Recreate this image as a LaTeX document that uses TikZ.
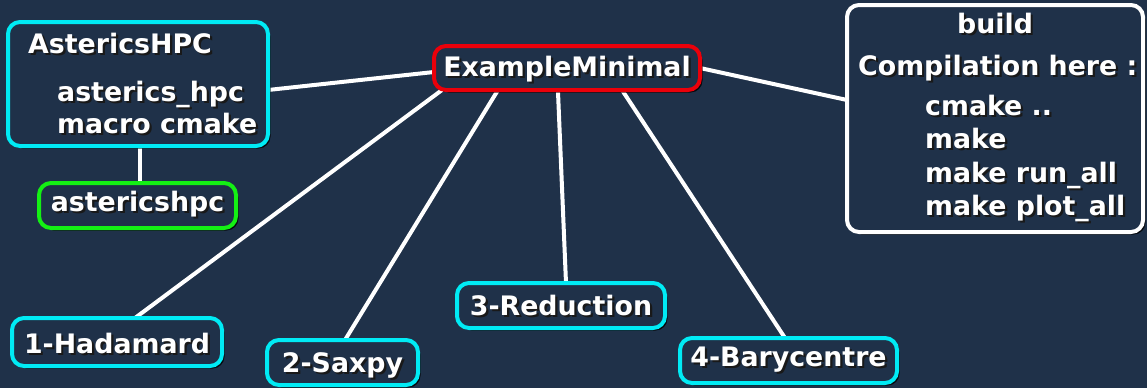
\documentclass[tikz,border=0pt]{standalone}
\usepackage{fontspec}
\setmainfont{DejaVu Sans}
\usetikzlibrary{shadows}
\definecolor{bg}{RGB}{31,49,73}
\definecolor{cyanb}{RGB}{0,235,245}
\definecolor{redb}{RGB}{235,0,10}
\definecolor{greenb}{RGB}{20,240,20}
\newcommand\sht[1]{\leavevmode\rlap{\hspace{2.2pt}\raisebox{-2.2pt}{\color{black!90}#1}}#1}
\tikzset{
  box/.style={draw, line width=4pt, rounded corners=12pt, fill=bg, inner sep=0pt,
    drop shadow={shadow xshift=2.5pt, shadow yshift=-2.5pt, opacity=0.8, fill=black}},
  txt/.style={text=white, font=\bfseries\fontsize{26.8}{30}\selectfont, inner sep=0pt},
  link/.style={draw=white, line width=4pt},
}
\begin{document}
\begin{tikzpicture}[x=1pt,y=-1pt]
\fill[bg] (0,0) rectangle (1147,388);
\useasboundingbox (0,0) rectangle (1147,388);
% connectors first
\coordinate (emL) at (434,72);
\coordinate (ahR) at (268,90);
\coordinate (emB1) at (442,90);
\coordinate (hdT) at (135,318);
\coordinate (emB2) at (498,90);
\coordinate (sxT) at (345,340);
\coordinate (emB3) at (558,92);
\coordinate (rdT) at (566,283);
\coordinate (emB4) at (622,90);
\coordinate (bcT) at (785,338);
\coordinate (emR) at (700,68);
\coordinate (bdL) at (847,100);
\coordinate (ahB) at (140,146);
\coordinate (agT) at (140,183);
\draw[link] (emL) -- (ahR);
\draw[link] (emB1) -- (hdT);
\draw[link] (emB2) -- (sxT);
\draw[link] (emB3) -- (rdT);
\draw[link] (emB4) -- (bcT);
\draw[link] (emR) -- (bdL);
\draw[link] (ahB) -- (agT);
% boxes
\node[box, draw=cyanb, minimum width=260pt, minimum height=124pt] (ah) at (138,84) {};
\node[txt, anchor=base west] (ahT) at (28,53) {\sht{AstericsHPC}};
\node[txt, anchor=base west] (ah1) at (57,101) {\sht{asterics\_hpc}};
\node[txt, anchor=base west] (ah2) at (57,133) {\sht{macro cmake}};
\node[box, draw=greenb, minimum width=197pt, minimum height=45pt] (ag) at (137.5,205.5) {};
\node[txt, anchor=base] (agt) at (137.5,211) {\sht{astericshpc}};
\node[box, draw=redb, minimum width=266pt, minimum height=44pt] (em) at (567,68) {};
\node[txt, anchor=base] (emt) at (567,76) {\sht{ExampleMinimal}};
\node[box, draw=white, minimum width=296pt, minimum height=227pt] (bd) at (995,118.5) {};
\node[txt, anchor=base] (bd0) at (995,33) {\sht{build}};
\node[txt, anchor=base west] (bd1) at (858,75) {\sht{Compilation here :}};
\node[txt, anchor=base west] (bd2) at (925,115) {\sht{cmake ..}};
\node[txt, anchor=base west] (bd3) at (925,148) {\sht{make}};
\node[txt, anchor=base west] (bd4) at (925,182) {\sht{make run\_all}};
\node[txt, anchor=base west] (bd5) at (925,215) {\sht{make plot\_all}};
\node[box, draw=cyanb, minimum width=210pt, minimum height=48pt] (hd) at (117,342) {};
\node[txt, anchor=base] (hdt) at (117,353) {\sht{1-Hadamard}};
\node[box, draw=cyanb, minimum width=151pt, minimum height=45pt] (sx) at (342.5,362.5) {};
\node[txt, anchor=base] (sxt) at (342.5,372) {\sht{2-Saxpy}};
\node[box, draw=cyanb, minimum width=208pt, minimum height=45pt] (rd) at (561,305.5) {};
\node[txt, anchor=base] (rdt) at (561,315) {\sht{3-Reduction}};
\node[box, draw=cyanb, minimum width=217pt, minimum height=45pt] (bc) at (788.5,360.5) {};
\node[txt, anchor=base] (bct) at (788.5,366) {\sht{4-Barycentre}};
\end{tikzpicture}
\end{document}
